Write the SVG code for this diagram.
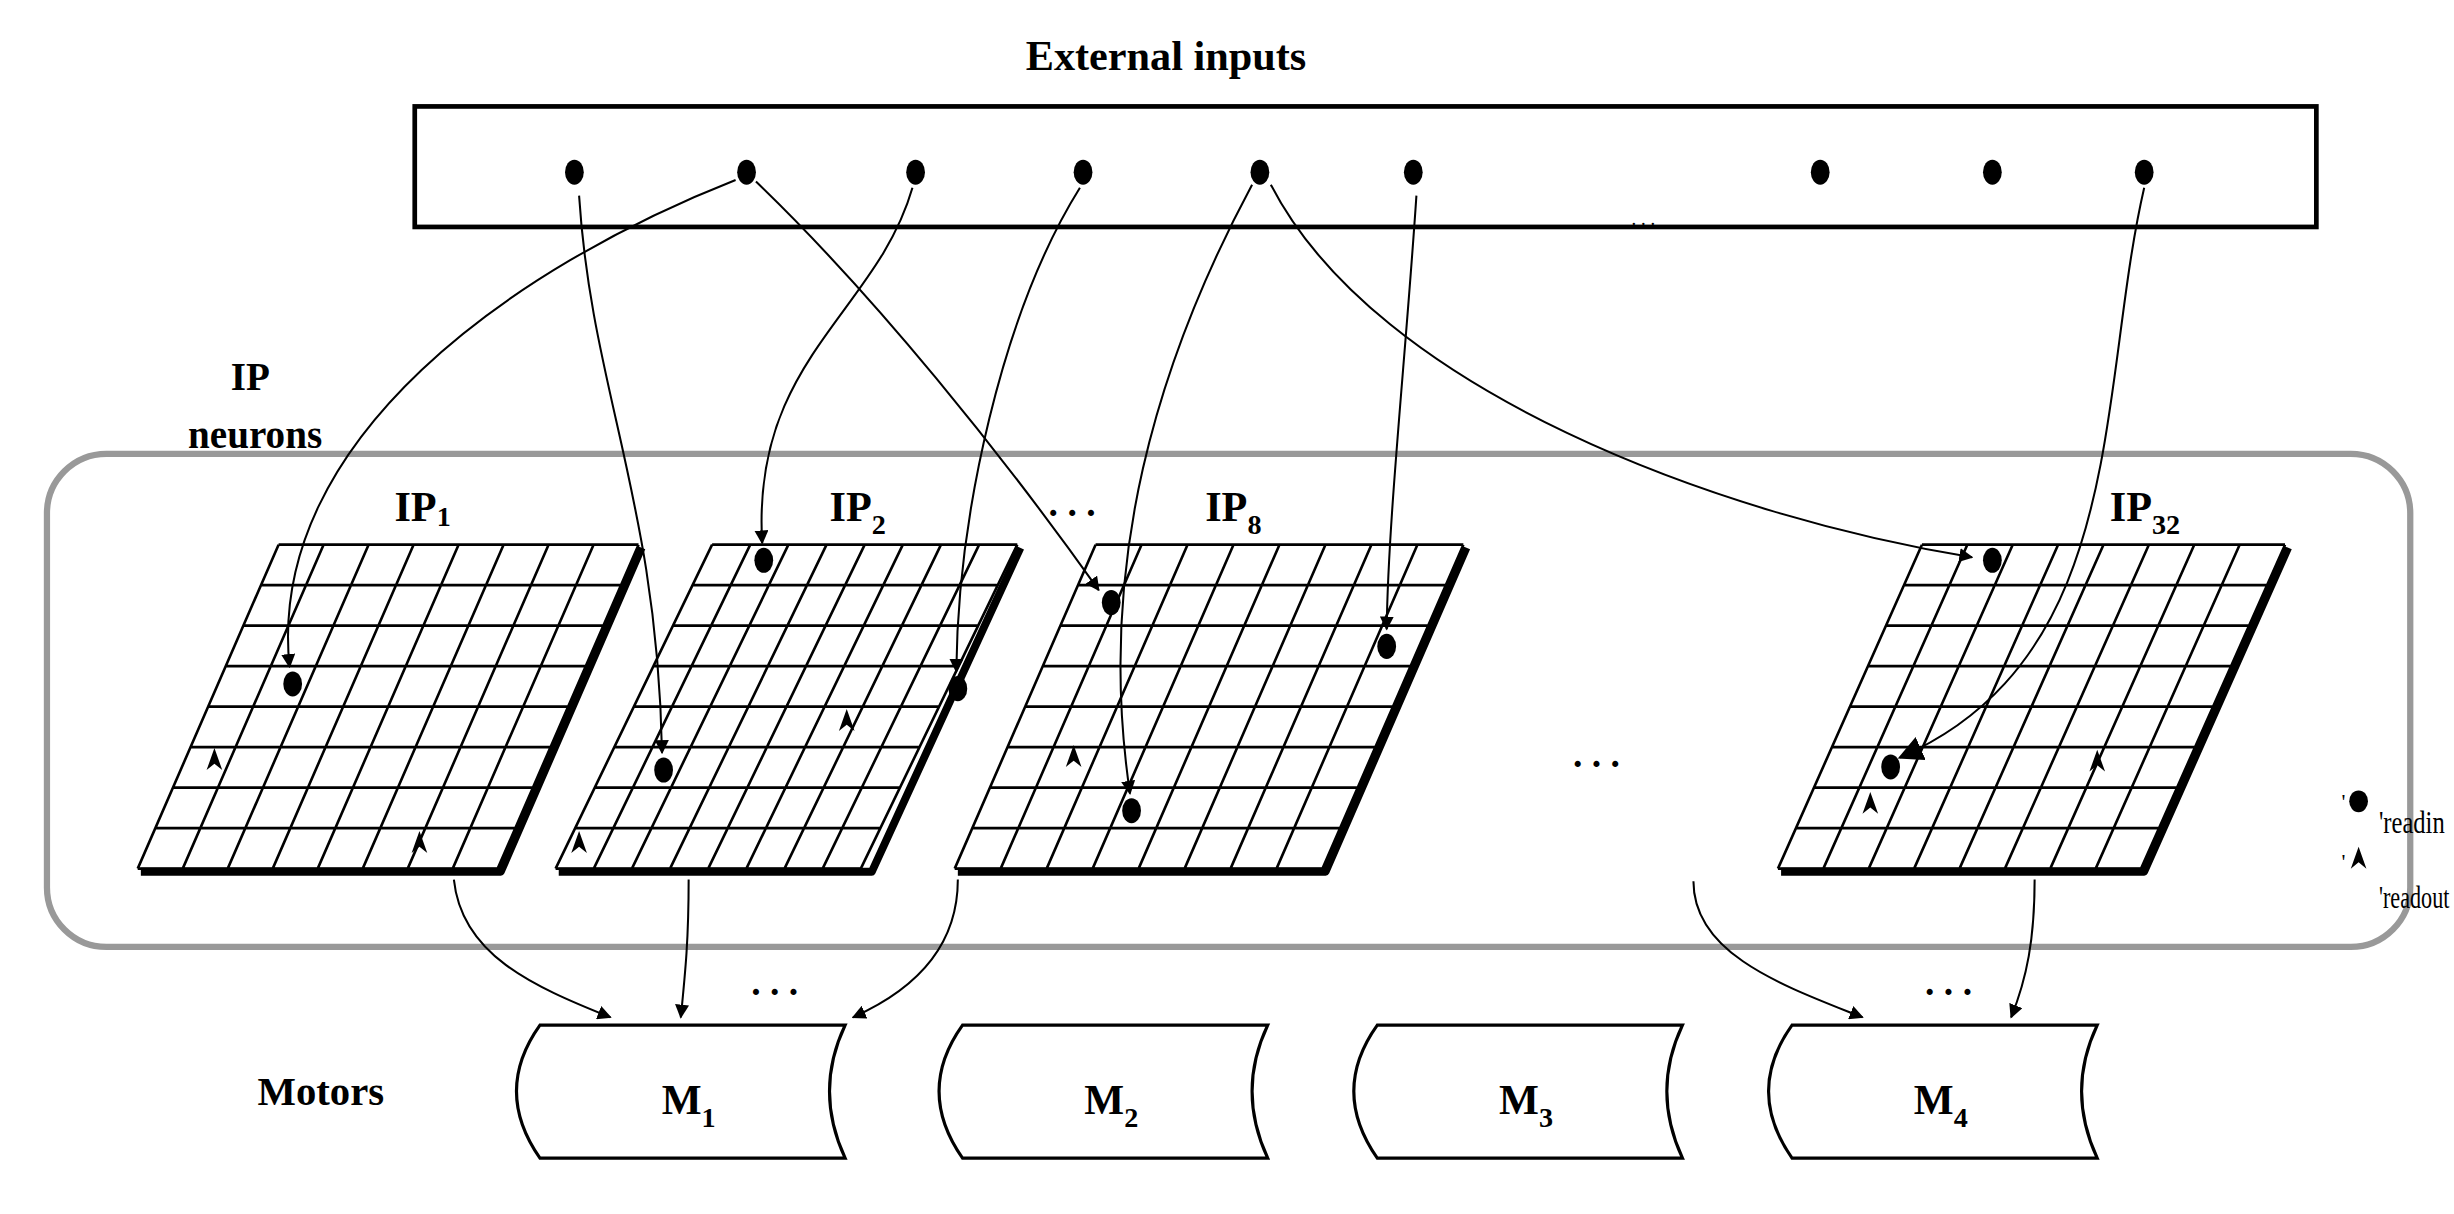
<svg xmlns="http://www.w3.org/2000/svg" xmlns:xlink="http://www.w3.org/1999/xlink" width="2454" height="1214" viewBox="0 0 2454 1214">
<style>
.t{font-family:"Liberation Serif",serif;font-weight:bold;fill:#000}
.r{font-family:"Liberation Serif",serif;fill:#000}
.gl{stroke:#000;stroke-width:2.6;vector-effect:non-scaling-stroke;fill:none}
.sh{stroke:#000;stroke-width:5;fill:none;stroke-linejoin:round}
.c{stroke:#000;stroke-width:1.3;fill:none}
.mo{stroke:#000;stroke-width:2;fill:#fff}
</style>
<defs>
<marker id="ah" viewBox="0 0 10 10" refX="9" refY="5" markerWidth="9" markerHeight="9" markerUnits="userSpaceOnUse" orient="auto"><path d="M0,0 L10,5 L0,10 Z" fill="#000"/></marker>
<marker id="ahb" viewBox="0 0 10 10" refX="9" refY="5" markerWidth="16" markerHeight="16" markerUnits="userSpaceOnUse" orient="auto"><path d="M0,0 L10,5 L0,10 Z" fill="#000"/></marker>
<g id="grid">
<path class="gl" d="M0,0H1M0,.125H1M0,.25H1M0,.375H1M0,.5H1M0,.625H1M0,.75H1M0,.875H1M0,1H1M0,0V1M.125,0V1M.25,0V1M.375,0V1M.5,0V1M.625,0V1M.75,0V1M.875,0V1M1,0V1"/>
</g>
<path id="ro" d="M0,-9 L5,5 L0,1 L-5,5 Z" fill="#000"/>
</defs>
<g transform="scale(1.5651)">
<rect width="1568" height="776" fill="#fff"/>
<text class="t" x="745" y="45" font-size="27" text-anchor="middle">External inputs</text>
<g id="inputs">
<rect x="265" y="68" width="1215" height="77" fill="none" stroke="#000" stroke-width="3"/>
<g fill="#000">
<ellipse cx="367" cy="110" rx="6" ry="8"/><ellipse cx="477" cy="110" rx="6" ry="8"/><ellipse cx="585" cy="110" rx="6" ry="8"/><ellipse cx="692" cy="110" rx="6" ry="8"/><ellipse cx="805" cy="110" rx="6" ry="8"/><ellipse cx="903" cy="110" rx="6" ry="8"/><ellipse cx="1163" cy="110" rx="6" ry="8"/><ellipse cx="1273" cy="110" rx="6" ry="8"/><ellipse cx="1370" cy="110" rx="6" ry="8"/>
</g>
<text class="r" x="1050" y="144" font-size="12" text-anchor="middle">. . .</text>
</g>
<g id="ipneurons">
<text class="t" x="160" y="249" font-size="25" text-anchor="middle">IP</text>
<text class="t" x="163" y="286" font-size="25" text-anchor="middle">neurons</text>
<rect x="30" y="290" width="1510" height="315" rx="38" fill="none" stroke="#999" stroke-width="4"/>
</g>
<g id="ip1">
<text class="t" x="252" y="333" font-size="27">IP<tspan font-size="18" dy="3">1</tspan></text>
<path class="sh" d="M410,350 L320,557 L90,557"/>
<use xlink:href="#grid" transform="matrix(230 0 -90 207 178 348)"/>
<ellipse cx="187" cy="437" rx="6" ry="8"/>
<use xlink:href="#ro" x="137" y="487"/><use xlink:href="#ro" x="268" y="540"/>
</g>
<g id="ip2">
<text class="t" x="530" y="333" font-size="27">IP<tspan font-size="18" dy="8">2</tspan></text>
<path class="sh" d="M652,350 L557,557 L357,557"/>
<use xlink:href="#grid" transform="matrix(195 0 -100 207 455 348)"/>
<ellipse cx="488" cy="358" rx="6" ry="8"/><ellipse cx="612" cy="440" rx="6" ry="8"/><ellipse cx="424" cy="492" rx="6" ry="8"/>
<use xlink:href="#ro" x="541" y="462"/><use xlink:href="#ro" x="370" y="540"/>
</g>
<text class="t" x="685" y="330" font-size="24" text-anchor="middle">. . .</text>
<g id="ip8">
<text class="t" x="770" y="333" font-size="27">IP<tspan font-size="18" dy="8">8</tspan></text>
<path class="sh" d="M937,350 L847,557 L612,557"/>
<use xlink:href="#grid" transform="matrix(235 0 -90 207 700 348)"/>
<ellipse cx="710" cy="385" rx="6" ry="8"/><ellipse cx="886" cy="413" rx="6" ry="8"/><ellipse cx="723" cy="518" rx="6" ry="8"/>
<use xlink:href="#ro" x="686" y="485"/>
</g>
<text class="t" x="1020" y="490" font-size="24" text-anchor="middle">. . .</text>
<g id="ip32">
<text class="t" x="1348" y="333" font-size="27">IP<tspan font-size="18" dy="8">32</tspan></text>
<path class="sh" d="M1462,350 L1370,557 L1138,557"/>
<use xlink:href="#grid" transform="matrix(232 0 -92 207 1228 348)"/>
<ellipse cx="1273" cy="358" rx="6" ry="8"/><ellipse cx="1208" cy="490" rx="6" ry="8"/>
<use xlink:href="#ro" x="1195" y="515"/><use xlink:href="#ro" x="1340" y="488"/>
</g>
<g id="legend">
<ellipse cx="1507" cy="512" rx="6" ry="7"/>
<text class="r" x="1496" y="517" font-size="14">'</text>
<text class="r" x="1520" y="532" font-size="20" textLength="42" lengthAdjust="spacingAndGlyphs">'readin</text>
<use xlink:href="#ro" x="1507" y="550"/>
<text class="r" x="1496" y="555" font-size="14">'</text>
<text class="r" x="1520" y="580" font-size="20" textLength="45" lengthAdjust="spacingAndGlyphs">'readout</text>
</g>
<g id="connectors">
<path class="c" marker-end="url(#ah)" d="M370,125 C378,250 420,320 423,481"/>
<path class="c" marker-end="url(#ah)" d="M470,115 C330,170 170,280 185,426"/>
<path class="c" marker-end="url(#ah)" d="M483,116 C560,190 640,290 702,377"/>
<path class="c" marker-end="url(#ah)" d="M583,120 C560,200 480,230 487,347"/>
<path class="c" marker-end="url(#ah)" d="M690,120 C640,200 612,330 611,429"/>
<path class="c" marker-end="url(#ah)" d="M800,118 C740,230 700,360 722,507"/>
<path class="c" marker-end="url(#ah)" d="M812,118 C880,250 1100,330 1260,356"/>
<path class="c" marker-end="url(#ah)" d="M905,125 C898,230 887,330 886,402"/>
<path class="c" marker-end="url(#ahb)" d="M1370,120 C1340,250 1360,420 1214,484"/>
<path class="c" marker-end="url(#ah)" d="M290,562 C295,610 340,630 390,650"/>
<path class="c" marker-end="url(#ah)" d="M440,562 C440,600 438,620 435,650"/>
<path class="c" marker-end="url(#ah)" d="M612,562 C612,600 590,630 545,650"/>
<path class="c" marker-end="url(#ah)" d="M1082,563 C1082,610 1140,630 1190,650"/>
<path class="c" marker-end="url(#ah)" d="M1300,562 C1300,600 1295,625 1285,650"/>
</g>
<text class="t" x="495" y="636" font-size="24" text-anchor="middle">. . .</text>
<text class="t" x="1245" y="636" font-size="24" text-anchor="middle">. . .</text>
<text class="t" x="205" y="706" font-size="26" text-anchor="middle">Motors</text>
<g id="m1"><path class="mo" d="M345,655 H540 Q520,697 540,740 H345 Q315,697 345,655 Z"/><text class="t" x="440" y="712" font-size="27" text-anchor="middle">M<tspan font-size="18" dy="8">1</tspan></text></g>
<g id="m2"><path class="mo" d="M615,655 H810 Q790,697 810,740 H615 Q585,697 615,655 Z"/><text class="t" x="710" y="712" font-size="27" text-anchor="middle">M<tspan font-size="18" dy="8">2</tspan></text></g>
<g id="m3"><path class="mo" d="M880,655 H1075 Q1055,697 1075,740 H880 Q850,697 880,655 Z"/><text class="t" x="975" y="712" font-size="27" text-anchor="middle">M<tspan font-size="18" dy="8">3</tspan></text></g>
<g id="m4"><path class="mo" d="M1145,655 H1340 Q1320,697 1340,740 H1145 Q1115,697 1145,655 Z"/><text class="t" x="1240" y="712" font-size="27" text-anchor="middle">M<tspan font-size="18" dy="8">4</tspan></text></g>
</g>
</svg>
